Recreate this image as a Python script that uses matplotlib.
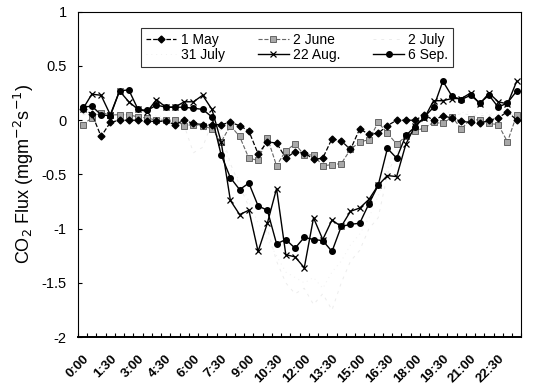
import matplotlib.pyplot as plt
import numpy as np

# Half-hourly CO2 flux, 48 values per day (0:00 - 23:30)
may_1 = [0.10, 0.06, -0.15, -0.02, 0.00, 0.00, 0.00, -0.01, -0.01, -0.01, -0.04, 0.00,
         -0.03, -0.04, -0.04, -0.04, -0.02, -0.05, -0.10, -0.31, -0.20, -0.21, -0.35, -0.29,
         -0.30, -0.36, -0.35, -0.17, -0.19, -0.27, -0.08, -0.13, -0.12, -0.05, 0.00, 0.00,
         0.00, 0.05, 0.00, 0.04, 0.02, -0.01, -0.02, -0.03, 0.00, 0.02, 0.08, 0.00]
june_2 = [-0.04, 0.02, 0.07, 0.05, 0.05, 0.05, 0.03, 0.02, 0.00, 0.00, 0.00, -0.05,
          -0.04, -0.05, -0.08, -0.20, -0.05, -0.15, -0.35, -0.37, -0.16, -0.42, -0.28, -0.22,
          -0.32, -0.32, -0.42, -0.41, -0.40, -0.27, -0.20, -0.18, -0.02, -0.12, -0.22, -0.15,
          -0.10, -0.07, -0.02, -0.03, 0.03, -0.08, 0.01, 0.00, -0.03, -0.04, -0.20, 0.05]
july_2 = [0.05, 0.06, 0.05, 0.04, 0.05, 0.04, 0.04, 0.03, 0.02, 0.01, 0.00, -0.05,
          -0.30, -0.25, -0.02, -0.10, -0.40, -0.60, -0.80, -1.20, -1.00, -1.30, -1.50, -1.60,
          -1.55, -1.70, -1.60, -1.75, -1.50, -1.30, -1.20, -1.00, -0.90, -0.50, -0.30, -0.15,
          -0.05, 0.00, 0.03, 0.05, 0.04, 0.06, 0.05, 0.04, 0.05, 0.03, 0.06, 0.05]
july_31 = [0.08, 0.07, 0.06, 0.05, 0.06, 0.05, 0.05, 0.04, 0.04, 0.03, 0.02, 0.00,
           -0.05, -0.10, -0.08, -0.15, -0.45, -0.55, -0.75, -0.95, -1.10, -1.25, -1.40, -1.45,
           -1.50, -1.45, -1.55, -1.40, -1.30, -1.15, -1.05, -0.90, -0.70, -0.45, -0.25, -0.12,
           -0.04, 0.02, 0.05, 0.06, 0.08, 0.07, 0.08, 0.06, 0.07, 0.05, 0.08, 0.07]
aug_22 = [0.10, 0.24, 0.23, 0.05, 0.27, 0.17, 0.10, 0.08, 0.19, 0.12, 0.12, 0.17,
          0.17, 0.23, 0.10, -0.20, -0.74, -0.87, -0.83, -1.21, -0.95, -0.63, -1.24, -1.26,
          -1.36, -0.90, -1.10, -0.92, -0.98, -0.84, -0.81, -0.73, -0.60, -0.51, -0.52, -0.22,
          -0.05, 0.02, 0.18, 0.18, 0.20, 0.20, 0.25, 0.15, 0.25, 0.17, 0.15, 0.36]
sep_6 = [0.12, 0.13, 0.05, 0.04, 0.27, 0.28, 0.10, 0.09, 0.14, 0.12, 0.12, 0.12,
         0.11, 0.10, 0.03, -0.32, -0.53, -0.64, -0.58, -0.79, -0.83, -1.14, -1.10, -1.18,
         -1.08, -1.10, -1.11, -1.21, -0.98, -0.96, -0.95, -0.77, -0.60, -0.26, -0.35, -0.14,
         -0.06, 0.03, 0.12, 0.36, 0.22, 0.19, 0.23, 0.16, 0.23, 0.12, 0.16, 0.27]

time_labels = ["0:00", "1:30", "3:00", "4:30", "6:00", "7:30", "9:00", "10:30",
               "12:00", "13:30", "15:00", "16:30", "18:00", "19:30", "21:00", "22:30"]

plt.rcParams['font.family'] = ['Liberation Sans Narrow', 'Liberation Sans', 'DejaVu Sans']

fig = plt.figure(figsize=(5.57, 3.92), dpi=100)
ax = fig.add_axes([0.140, 0.140, 0.796, 0.830])

x = np.arange(len(may_1))

# faint series (barely printed)
ax.plot(x, july_2, color='#ececec', lw=0.7, ls=(0, (3, 5)), label='2 July')
ax.plot(x, july_31, color='#f0f0f0', lw=0.7, ls=(0, (1, 4)), label='31 July')

ax.plot(x, june_2, color='#666666', lw=0.8, ls='--', marker='s', ms=4,
        mfc='#a8a8a8', mec='#555555', mew=0.6, label='2 June')
ax.plot(x, may_1, color='black', lw=0.9, ls='--', marker='D', ms=3.5,
        mfc='black', mec='black', label='1 May')
ax.plot(x, aug_22, color='black', lw=1.0, marker='x', ms=4, mew=0.9, label='22 Aug.')
ax.plot(x, sep_6, color='black', lw=1.0, marker='o', ms=4, label='6 Sep.')

ax.set_xlim(-0.5, len(x) - 0.5)
ax.set_ylim(-2, 1)
ax.set_yticks([1, 0.5, 0, -0.5, -1, -1.5, -2])
ax.set_yticklabels(['1', '0.5', '0', '-0.5', '-1', '-1.5', '-2'], fontsize=10.5)
ax.tick_params(axis='y', direction='in', length=3, pad=8)

ax.set_xticks(np.arange(0, 48, 3))
ax.set_xticklabels(time_labels, rotation=45, ha='right', rotation_mode='anchor',
                   fontsize=9.5, fontweight='bold')
ax.set_xticks(np.arange(-0.5, 48, 1), minor=True)
ax.tick_params(axis='x', which='major', length=0, pad=11)
ax.tick_params(axis='x', which='minor', direction='in', length=3, width=0.8)

for side in ['top', 'right', 'left']:
    ax.spines[side].set_linewidth(0.8)
ax.spines['bottom'].set_linewidth(1.4)

ax.set_ylabel('CO$_2$ Flux (mgm$^{-2}$s$^{-1}$)', fontsize=13, labelpad=4)

# legend laid out row-wise: 1 May, 2 June, 2 July / 31 July, 22 Aug., 6 Sep.
h, l = ax.get_legend_handles_labels()
order = {'1 May': 0, '31 July': 1, '2 June': 2, '22 Aug.': 3, '2 July': 4, '6 Sep.': 5}
pairs = sorted(zip(h, l), key=lambda p: order[p[1]])
leg = ax.legend([p[0] for p in pairs], [p[1] for p in pairs], ncol=3,
                loc='upper center', bbox_to_anchor=(0.494, 0.972), fontsize=10,
                frameon=True, fancybox=False, edgecolor='black', handlelength=2.2,
                handletextpad=0.3, columnspacing=2.4, labelspacing=0.1,
                borderpad=0.35)
leg.get_frame().set_linewidth(0.8)

fig.savefig('out.png', dpi=100)
